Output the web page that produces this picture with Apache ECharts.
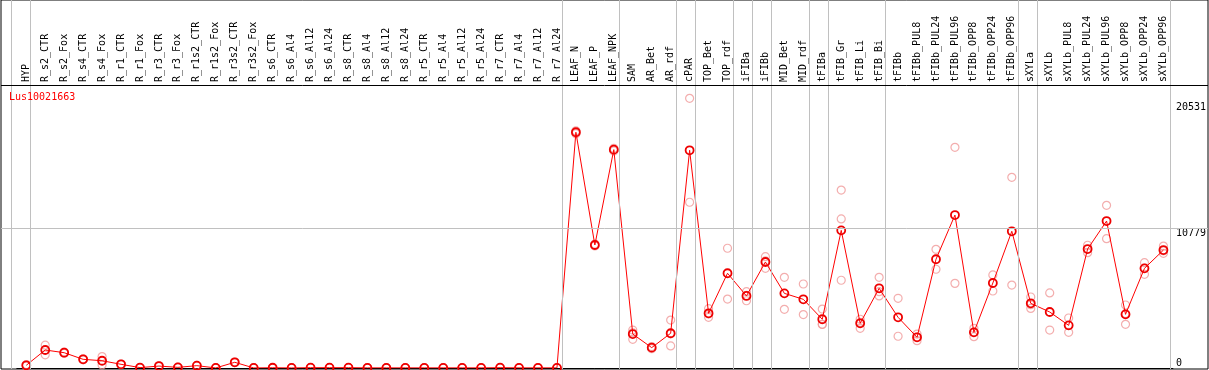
<!DOCTYPE html>
<html><head><meta charset="utf-8">
<script src="https://cdn.jsdelivr.net/npm/echarts@6/dist/echarts.min.js"></script>
<style>html,body{margin:0;padding:0;background:#fff}#c{width:1209px;height:370px}</style>
</head><body><div id="c"></div>
<script>
const geneName = 'Lus10021663';
const categories = ['HYP','R_s2_CTR','R_s2_Fox','R_s4_CTR','R_s4_Fox','R_r1_CTR','R_r1_Fox','R_r3_CTR','R_r3_Fox','R_r1s2_CTR','R_r1s2_Fox','R_r3s2_CTR','R_r3s2_Fox','R_s6_CTR','R_s6_Al4','R_s6_Al12','R_s6_Al24','R_s8_CTR','R_s8_Al4','R_s8_Al12','R_s8_Al24','R_r5_CTR','R_r5_Al4','R_r5_Al12','R_r5_Al24','R_r7_CTR','R_r7_Al4','R_r7_Al12','R_r7_Al24','LEAF_N','LEAF_P','LEAF_NPK','SAM','AR_Bet','AR_rdf','cPAR','TOP_Bet','TOP_rdf','iFIBa','iFIBb','MID_Bet','MID_rdf','tFIBa','tFIB_Gr','tFIB_Li','tFIB_Bi','tFIBb','tFIBb_PUL8','tFIBb_PUL24','tFIBb_PUL96','tFIBb_OPP8','tFIBb_OPP24','tFIBb_OPP96','sXYLa','sXYLb','sXYLb_PUL8','sXYLb_PUL24','sXYLb_PUL96','sXYLb_OPP8','sXYLb_OPP24','sXYLb_OPP96'];
const meanValues = [208,1390,1180,670,560,285,30,150,50,180,5,440,5,20,5,25,25,25,10,10,10,10,10,10,10,25,10,10,10,18190,9490,16850,2620,1570,2680,16800,4220,7310,5560,8180,5760,5300,3760,10620,3450,6150,3910,2370,8390,11800,2750,6560,10550,4990,4320,3290,9180,11340,4140,7690,9100];
const replicateValues = [[260,160],[1760,1020],[1230,1130],[700,640],[880,240],[300,270],[40,20],[170,130],[60,40],[200,160],[5,5],[460,420],[5,5],[20,20],[5,5],[25,25],[25,25],[25,25],[10,10],[10,10],[10,10],[10,10],[10,10],[10,10],[10,10],[25,25],[10,10],[10,10],[10,10],[18300,18080],[9560,9420],[16950,16750],[2930,2210,2720],[1650,1490],[3700,1700,2640],[20810,12790],[4580,3910,4170],[9240,5320],[5890,5190,5600],[8590,7690,8260],[7000,4530],[6480,4120],[4550,3370,3360],[13730,11500,6770],[3760,3060,3520],[7000,5560,5890],[5380,2450],[2110,2620,2380],[9160,7620],[17030,6530],[2420,3060,2770],[7180,5940],[14710,6400],[5480,4600,4890],[5790,2930],[3860,2750],[9470,8900],[12550,9980],[4860,3370,4190],[8130,7230,7710],[9410,8850,9040]];
const yTickValues = [0, 10779, 20531];
const groupEnds = [-1, 0, 28, 31, 34, 35, 37, 38, 39, 41, 42, 45, 52, 53, 60];

const FONT = 'DejaVu Sans Mono';
const plot = {left: 16.8, top: 85, right: 1175.8, bottom: 368};
const frame = {left: 1, top: 0, right: 1208, bottom: 369};
const yMax = 21837;
const sepOffset = 0.2;
const n = categories.length;
const bw = (plot.right - plot.left) / n;
const ppu = (plot.bottom - plot.top) / yMax;

const chart = echarts.init(document.getElementById('c'), null, {renderer: 'canvas'});
chart.setOption({
  animation: false,
  backgroundColor: '#fff',
  title: {text: geneName, left: 9, top: 92, padding: 0, textStyle: {color: '#ff0000', fontSize: 10, fontWeight: 'normal', fontFamily: FONT}},
  grid: [
    {left: plot.left, top: plot.top, width: plot.right - plot.left, height: plot.bottom - plot.top, containLabel: false},
    {left: frame.left, top: frame.top, width: frame.right - frame.left, height: frame.bottom - frame.top, show: true, borderColor: '#000', borderWidth: 1, backgroundColor: 'transparent'}
  ],
  xAxis: [
    {gridIndex: 0, type: 'category', data: categories, position: 'top', boundaryGap: true,
     axisLine: {show: true, lineStyle: {color: '#000', width: 1}}, axisTick: {show: false}, splitLine: {show: false},
     axisLabel: {interval: 0, rotate: 90, margin: 3, fontSize: 10, fontFamily: FONT, color: '#000'}},
    {gridIndex: 1, type: 'value', show: false,
     min: -0.5 - (plot.left - frame.left) / bw, max: n - 0.5 + (frame.right - plot.right) / bw}
  ],
  yAxis: [
    {gridIndex: 0, type: 'value', min: 0, max: yMax, position: 'right',
     axisLine: {show: false}, axisTick: {show: false}, splitLine: {show: false},
     axisLabel: {customValues: yTickValues, margin: 3, fontSize: 10, fontFamily: FONT, color: '#000',
       formatter: v => String(v),
       verticalAlign: 'top', verticalAlignMinLabel: 'bottom'}},
    {gridIndex: 1, type: 'value', show: false,
     min: -(frame.bottom - plot.bottom) / ppu, max: yMax + (plot.top - frame.top) / ppu}
  ],
  series: [
    {type: 'line', xAxisIndex: 1, yAxisIndex: 1, data: [], silent: true, z: 1,
     markLine: {silent: true, symbol: ['none', 'none'], label: {show: false}, animation: false,
       lineStyle: {color: '#c0c0c0', width: 1, type: 'solid'},
       emphasis: {disabled: true},
       data: groupEnds.map(g => ({xAxis: g + sepOffset}))
         .concat([{yAxis: yTickValues[1]}, {yAxis: yMax, lineStyle: {color: '#000', width: 1, type: 'solid'}}])}},
    {type: 'scatter', xAxisIndex: 0, yAxisIndex: 0, z: 2, silent: true,
     data: replicateValues.flatMap((reps, i) => reps.map(v => [i, v])),
     symbol: 'circle', symbolSize: 8,
     itemStyle: {color: 'rgba(0,0,0,0)', borderColor: '#f09a9a', borderWidth: 1.2}},
    {type: 'line', xAxisIndex: 0, yAxisIndex: 0, z: 3, silent: true,
     data: meanValues, symbol: 'circle', symbolSize: 8, showAllSymbol: true,
     lineStyle: {color: '#ff0000', width: 1},
     itemStyle: {color: 'rgba(0,0,0,0)', borderColor: '#ee0000', borderWidth: 1.8}}
  ]
});
</script></body></html>
